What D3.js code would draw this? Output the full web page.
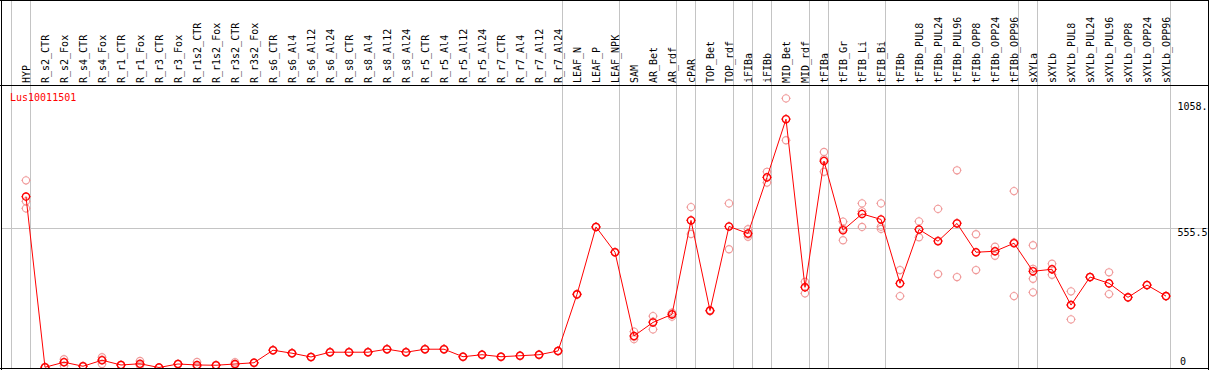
<!DOCTYPE html>
<html>
<head>
<meta charset="utf-8">
<script src="https://cdn.jsdelivr.net/npm/d3@7"></script>
<style>
  html, body { margin: 0; padding: 0; background: #fff; }
  svg { display: block; }
  text { font-family: "DejaVu Sans Mono", "Liberation Mono", monospace; font-size: 10px; }
</style>
</head>
<body>
<svg id="chart"></svg>
<script>
// sample columns
const samples = [
  "HYP", "R_s2_CTR", "R_s2_Fox", "R_s4_CTR", "R_s4_Fox", "R_r1_CTR", "R_r1_Fox",
  "R_r3_CTR", "R_r3_Fox", "R_r1s2_CTR", "R_r1s2_Fox", "R_r3s2_CTR", "R_r3s2_Fox",
  "R_s6_CTR", "R_s6_Al4", "R_s6_Al12", "R_s6_Al24", "R_s8_CTR", "R_s8_Al4",
  "R_s8_Al12", "R_s8_Al24", "R_r5_CTR", "R_r5_Al4", "R_r5_Al12", "R_r5_Al24",
  "R_r7_CTR", "R_r7_Al4", "R_r7_Al12", "R_r7_Al24", "LEAF_N", "LEAF_P", "LEAF_NPK",
  "SAM", "AR_Bet", "AR_rdf", "cPAR", "TOP_Bet", "TOP_rdf", "iFIBa", "iFIBb",
  "MID_Bet", "MID_rdf", "tFIBa", "tFIB_Gr", "tFIB_Li", "tFIB_Bi", "tFIBb",
  "tFIBb_PUL8", "tFIBb_PUL24", "tFIBb_PUL96", "tFIBb_OPP8", "tFIBb_OPP24", "tFIBb_OPP96",
  "sXYLa", "sXYLb", "sXYLb_PUL8", "sXYLb_PUL24", "sXYLb_PUL96", "sXYLb_OPP8",
  "sXYLb_OPP24", "sXYLb_OPP96"
];

// mean expression per column
const means = [
  682, 1, 21, 5, 29, 10, 15, 0, 14, 10, 9, 14, 19,
  69, 57, 42, 61, 61, 61, 73, 61, 73, 73, 43, 51, 43, 47, 51, 66,
  292, 561, 460, 126, 180, 212, 587, 227, 563, 535, 759, 991, 320,
  824, 548, 613, 591, 336, 551, 504, 575, 460, 464, 496,
  384, 392, 249, 361, 336, 280, 329, 285
];

// replicate values per column
const replicates = [
  [747, 663, 635], [0, 2, 1], [33, 22, 7], [4, 6, 5], [41, 31, 14], [9, 11, 10],
  [26, 12, 8], [0, 0, 0], [15, 14, 13], [22, 5, 4], [10, 9, 8], [21, 12, 10], [20, 19, 18],
  [70, 69, 68], [58, 57, 56], [43, 42, 41], [62, 61, 60], [62, 61, 60], [62, 61, 60],
  [74, 73, 72], [62, 61, 60], [74, 73, 72], [74, 73, 72], [44, 43, 42], [52, 51, 50],
  [44, 43, 42], [48, 47, 46], [52, 51, 50], [67, 66, 65],
  [294, 292, 290], [562, 561, 560], [461, 460, 459], [143, 122, 113], [205, 183, 152],
  [219, 214, 203], [640, 588, 533], [229, 227, 225], [655, 562, 472], [552, 531, 522],
  [781, 758, 738], [1074, 992, 907], [342, 322, 296], [860, 831, 781], [582, 554, 508],
  [655, 623, 561], [655, 562, 553], [389, 334, 285], [583, 550, 520], [633, 506, 373],
  [787, 577, 361], [532, 459, 389], [482, 464, 446], [704, 499, 285],
  [488, 394, 354, 300], [414, 392, 370], [304, 251, 192], [362, 361, 360],
  [380, 335, 293], [281, 280, 279], [330, 329, 328], [286, 285, 284]
];

// last column of each sample group (a separator line follows it)
const groupEnds = [
  "HYP", "R_r7_Al24", "LEAF_NPK", "AR_rdf", "cPAR", "TOP_rdf", "iFIBa", "iFIBb",
  "MID_rdf", "tFIBa", "tFIB_Bi", "tFIBb_OPP96", "sXYLa", "sXYLb_OPP96"
];

const yTicks = [0, 555.5, 1058];
const yTickLabels = ["0", "555.5", "1058."];
const geneName = "Lus10011501";

const W = 1209, H = 370;
const headerBottom = 85.5;

const svg = d3.select("#chart").attr("width", W).attr("height", H);

const x = d3.scalePoint().domain(samples).range([26, 1166]);
const step = x.step();
const y = d3.scaleLinear().domain([0, 1058]).range([367.5, 102.4]);

// clip everything to the frame
svg.append("clipPath").attr("id", "frame")
  .append("rect").attr("x", 1).attr("y", 0).attr("width", 1207).attr("height", 369);

const g = svg.append("g").attr("clip-path", "url(#frame)");

// group separators (plus one before the first column)
const sepX = [x(samples[0]) - step + 4.5].concat(groupEnds.map(s => Math.round(x(s)) + 4.5));
g.selectAll("line.sep")
  .data(sepX)
  .enter().append("line")
  .attr("class", "sep")
  .attr("x1", d => d).attr("x2", d => d)
  .attr("y1", 0).attr("y2", H)
  .attr("stroke", "#c4c4c4").attr("stroke-width", 1);

// horizontal mid gridline
g.append("line")
  .attr("x1", 0).attr("x2", W)
  .attr("y1", Math.floor(y(555.5)) + 0.5).attr("y2", Math.floor(y(555.5)) + 0.5)
  .attr("stroke", "#c4c4c4").attr("stroke-width", 1);

// column labels
g.selectAll("text.col")
  .data(samples)
  .enter().append("text")
  .attr("class", "col")
  .attr("transform", d => "translate(" + (x(d) + 4) + "," + 83 + ") rotate(-90)")
  .attr("fill", "#000")
  .text(d => d);

// right-hand value labels
g.selectAll("text.tick")
  .data(yTicks)
  .enter().append("text")
  .attr("class", "tick")
  .attr("x", (d, i) => i === 0 ? 1180 : 1177.5)
  .attr("y", d => Math.min(y(d) + 8, 365))
  .attr("fill", "#000")
  .text((d, i) => yTickLabels[i]);

g.append("text")
  .attr("x", 10).attr("y", 101)
  .attr("fill", "#ff0000")
  .text(geneName);

// marker: ring with tiny ticks
function marker(r) {
  const t = r + 1;
  return "M" + (-r) + ",0A" + r + "," + r + " 0 1,0 " + r + ",0A" + r + "," + r + " 0 1,0 " + (-r) + ",0" +
    "M0," + (-r) + "V" + (-t) + "M0," + r + "V" + t +
    "M" + (-r) + ",0H" + (-t) + "M" + r + ",0H" + t;
}

const repPoints = [];
samples.forEach((s, i) => replicates[i].forEach(v => repPoints.push({ s: s, v: v })));

g.selectAll("path.rep")
  .data(repPoints)
  .enter().append("path")
  .attr("class", "rep")
  .attr("transform", d => "translate(" + x(d.s) + "," + y(d.v) + ")")
  .attr("d", marker(3.6))
  .attr("fill", "none")
  .attr("stroke", "#f09a9a")
  .attr("stroke-width", 1.1);

const line = d3.line()
  .x((d, i) => x(samples[i]))
  .y(d => y(d));

g.append("path")
  .datum(means)
  .attr("d", line)
  .attr("fill", "none")
  .attr("stroke", "#ff0000")
  .attr("stroke-width", 1);

g.selectAll("path.mean")
  .data(means)
  .enter().append("path")
  .attr("class", "mean")
  .attr("transform", (d, i) => "translate(" + x(samples[i]) + "," + y(d) + ")")
  .attr("d", marker(3.6))
  .attr("fill", "none")
  .attr("stroke", "#ff0000")
  .attr("stroke-width", 1.3);

// frame
svg.append("line").attr("x1", 0).attr("x2", W).attr("y1", 0.5).attr("y2", 0.5).attr("stroke", "#000");
svg.append("line").attr("x1", 1.5).attr("x2", 1.5).attr("y1", 0).attr("y2", H).attr("stroke", "#000");
svg.append("line").attr("x1", 1208.5).attr("x2", 1208.5).attr("y1", 0).attr("y2", H).attr("stroke", "#000");
svg.append("line").attr("x1", 0).attr("x2", W).attr("y1", 368.5).attr("y2", 368.5).attr("stroke", "#000");
svg.append("line").attr("x1", 0).attr("x2", W).attr("y1", headerBottom).attr("y2", headerBottom).attr("stroke", "#000");
</script>
</body>
</html>
